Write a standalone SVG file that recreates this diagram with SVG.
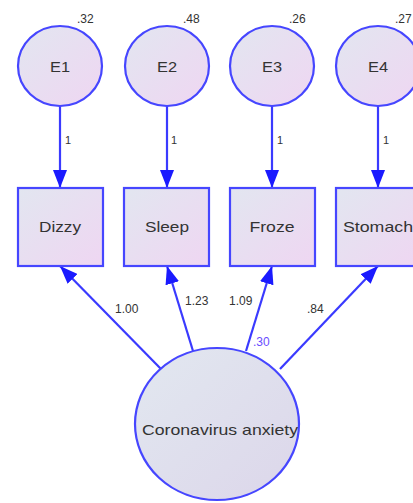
<svg xmlns="http://www.w3.org/2000/svg" width="413" height="503" viewBox="0 0 413 503">
<defs>
<linearGradient id="g1" x1="0" y1="0" x2="1" y2="1">
<stop offset="0" stop-color="#e2e6f0"/>
<stop offset="1" stop-color="#efd6f2"/>
</linearGradient>
<linearGradient id="g2" x1="0" y1="0" x2="1" y2="1">
<stop offset="0" stop-color="#e2e8f0"/>
<stop offset="1" stop-color="#dcd6ea"/>
</linearGradient>
<marker id="ah" markerWidth="18" markerHeight="14" viewBox="0 0 18 14" refX="18" refY="7" orient="auto" markerUnits="userSpaceOnUse">
<path d="M0,0 L18,7 L0,14 Z" fill="#1a1aff"/>
</marker>
</defs>
<style>
.n{stroke:#4646ff;stroke-width:2.2;fill:url(#g1)}
.big{stroke:#4646ff;stroke-width:2.2;fill:url(#g2)}
.c{stroke:#3a3aff;stroke-width:2.2;fill:none;marker-end:url(#ah)}
text{font-family:"Liberation Sans",Arial,sans-serif;fill:#333}
.lab{font-size:15px;text-anchor:middle}
.num{font-size:12px}
.w{font-size:11px}
</style>
<rect width="413" height="503" fill="#fff"/>
<g id="connectors">
<line class="c" x1="60" y1="106" x2="60" y2="188"/>
<line class="c" x1="167" y1="106" x2="167" y2="188"/>
<line class="c" x1="272" y1="106" x2="272" y2="188"/>
<line class="c" x1="378" y1="106" x2="378" y2="188"/>
<line class="c" x1="161" y1="369" x2="60" y2="266"/>
<line class="c" x1="193" y1="351" x2="167" y2="266"/>
<line class="c" x1="246" y1="351" x2="272" y2="266"/>
<line class="c" x1="280" y1="369" x2="378" y2="266"/>
<text class="w" x="65" y="144">1</text>
<text class="w" x="171" y="144">1</text>
<text class="w" x="277" y="144">1</text>
<text class="w" x="383" y="144">1</text>
<text class="num" x="115" y="313">1.00</text>
<text class="num" x="185" y="305">1.23</text>
<text class="num" x="229" y="305">1.09</text>
<text class="num" x="307" y="313">.84</text>
<text class="num" x="253" y="346" style="fill:#6a4cff">.30</text>
</g>
<g id="E1"><ellipse class="n" cx="60" cy="66" rx="42" ry="40"/><text class="lab" x="60" y="72" textLength="20" lengthAdjust="spacingAndGlyphs">E1</text><text class="num" x="77" y="23">.32</text></g>
<g id="E2"><ellipse class="n" cx="167" cy="66" rx="42" ry="40"/><text class="lab" x="167" y="72" textLength="20" lengthAdjust="spacingAndGlyphs">E2</text><text class="num" x="183" y="23">.48</text></g>
<g id="E3"><ellipse class="n" cx="272" cy="66" rx="42" ry="40"/><text class="lab" x="272" y="72" textLength="20" lengthAdjust="spacingAndGlyphs">E3</text><text class="num" x="289" y="23">.26</text></g>
<g id="E4"><ellipse class="n" cx="378" cy="66" rx="42" ry="40"/><text class="lab" x="378" y="72" textLength="20" lengthAdjust="spacingAndGlyphs">E4</text><text class="num" x="395" y="23">.27</text></g>
<g id="Dizzy"><rect class="n" x="18" y="188" width="85" height="78"/><text class="lab" x="60" y="232" textLength="42" lengthAdjust="spacingAndGlyphs">Dizzy</text></g>
<g id="Sleep"><rect class="n" x="124" y="188" width="85" height="78"/><text class="lab" x="167" y="232" textLength="44" lengthAdjust="spacingAndGlyphs">Sleep</text></g>
<g id="Froze"><rect class="n" x="230" y="188" width="85" height="78"/><text class="lab" x="272" y="232" textLength="45" lengthAdjust="spacingAndGlyphs">Froze</text></g>
<g id="Stomach"><rect class="n" x="336" y="188" width="85" height="78"/><text class="lab" x="378" y="232" textLength="70" lengthAdjust="spacingAndGlyphs">Stomach</text></g>
<g id="CoronavirusAnxiety"><ellipse class="big" cx="217" cy="424" rx="82" ry="76"/><text class="lab" x="220" y="435" textLength="156" lengthAdjust="spacingAndGlyphs">Coronavirus anxiety</text></g>
</svg>
